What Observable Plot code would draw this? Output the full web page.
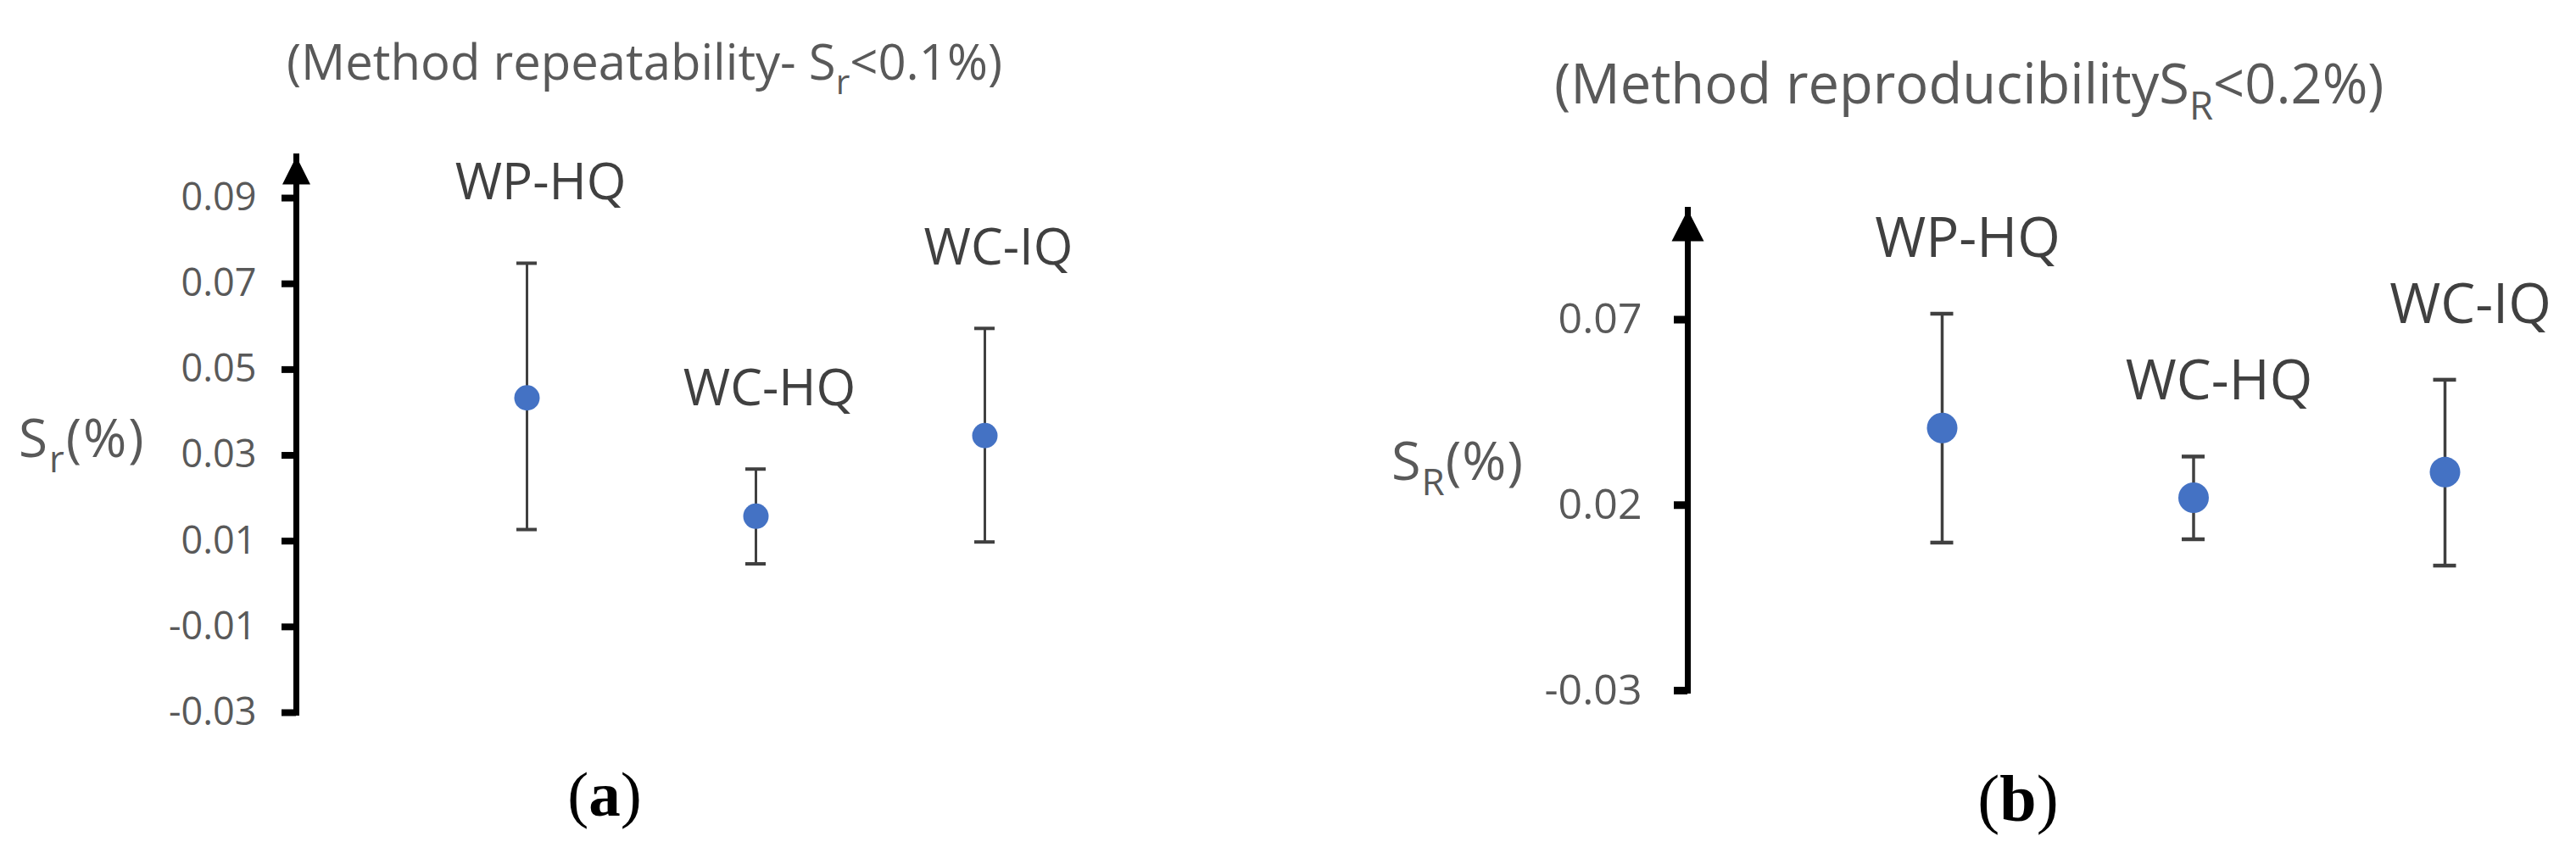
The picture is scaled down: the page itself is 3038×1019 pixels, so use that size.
<!DOCTYPE html>
<html>
<head>
<meta charset="utf-8">
<script src="https://cdn.jsdelivr.net/npm/d3@7"></script>
<script src="https://cdn.jsdelivr.net/npm/@observablehq/plot@0.6"></script>
<style>
  body { margin: 0; background: #fff; }
  #root { position: relative; width: 3038px; height: 1019px; overflow: hidden; background: #fff; font-family: "Open Sans", sans-serif; }
  .t { position: absolute; white-space: nowrap; line-height: 1; color: #595959; font-family: "Open Sans", sans-serif; }
  .sub { font-size: 0.7em; position: relative; top: 0.41em; }
  .panel { position: absolute; }
  .cap { position: absolute; white-space: nowrap; line-height: 1; color: #000; font-family: "Liberation Serif", "Times New Roman", serif; transform: translateX(-50%); }
</style>
</head>
<body>
<div id="root">
  <div class="t" style="left:338px; top:43px; font-size:58px;">(Method repeatability- S<span class="sub">r</span>&lt;0.1%)</div>
  <div class="t" style="left:1833px; top:65px; font-size:65px;">(Method reproducibilityS<span class="sub">R</span>&lt;0.2%)</div>
  <div class="t" style="left:22px; top:484px; font-size:62px; letter-spacing:2px;">S<span class="sub">r</span>(%)</div>
  <div class="t" style="left:1641px; top:510px; font-size:63px; letter-spacing:1px;">S<span class="sub">R</span>(%)</div>
  <div class="cap" style="left:713px; top:899px; font-size:75px;">(<b>a</b>)</div>
  <div class="cap" style="left:2380px; top:903px; font-size:78px;">(<b>b</b>)</div>
</div>
<script>
// ---- data ----
const categories = ["WP-HQ", "WC-HQ", "WC-IQ"];

// (a) repeatability Sr (%)
const srMean = [0.0434, 0.0158, 0.0346];
const srLow  = [0.0127, 0.0047, 0.0098];
const srHigh = [0.0748, 0.0268, 0.0596];
const srTicks = [-0.03, -0.01, 0.01, 0.03, 0.05, 0.07, 0.09];

// (b) reproducibility SR (%)
const sRMean = [0.0408, 0.0220, 0.0289];
const sRLow  = [0.0099, 0.0108, 0.0037];
const sRHigh = [0.0716, 0.0331, 0.0538];
const sRTicks = [-0.03, 0.02, 0.07];

function rows(mean, low, high) {
  return categories.map((c, i) => ({cat: c, mean: mean[i], low: low[i], high: high[i]}));
}

// filled arrowhead whose tip sits at the symbol origin
function arrowHead(w, h) {
  return {draw(ctx) { ctx.moveTo(0, 0); ctx.lineTo(w / 2, h); ctx.lineTo(-w / 2, h); ctx.closePath(); }};
}

function panel(data, ticks, o) {
  const step = (o.xc[1] - o.xc[0]) / (categories.length - 1);
  const plotW = o.width - o.ml - o.mr;
  const chart = Plot.plot({
    width: o.width,
    height: o.height,
    marginTop: o.mt,
    marginBottom: o.mb,
    marginLeft: o.ml,
    marginRight: o.mr,
    style: {fontFamily: "Open Sans, sans-serif", fontSize: o.tickFs + "px", background: "transparent", overflow: "visible"},
    x: {type: "band", domain: categories, range: [o.xc[0] - o.capW / 2, o.xc[1] + o.capW / 2],
        paddingInner: 1 - o.capW / step, paddingOuter: 0, align: 0.5, round: false, axis: null},
    y: {domain: o.ydomain, axis: null},
    marks: [
      // axis ticks (outside, to the left of the axis line)
      Plot.ruleY(ticks, {y: d => d, insetLeft: -o.tickSize, insetRight: plotW, stroke: "#000", strokeWidth: o.tickW}),
      // tick labels
      Plot.axisY(ticks, {
        anchor: "left", tickSize: 0, tickPadding: o.tickSize + o.tickPad,
        tickFormat: d => String(d), fill: "#595959", fontSize: o.tickFs, label: null
      }),
      // vertical axis line with arrowhead
      Plot.frame({anchor: "left", stroke: "#000", strokeWidth: o.axisW}),
      Plot.dot([0], {frameAnchor: "top-left", symbol: arrowHead(o.arrowW, o.arrowH), r: 10, fill: "#000", stroke: "none"}),
      // error bars
      Plot.ruleX(data, {x: "cat", y1: "low", y2: "high", stroke: "#404040", strokeWidth: o.barW}),
      Plot.tickY(data, {x: "cat", y: "high", stroke: "#404040", strokeWidth: o.capT}),
      Plot.tickY(data, {x: "cat", y: "low", stroke: "#404040", strokeWidth: o.capT}),
      // means
      Plot.dot(data, {x: "cat", y: "mean", r: o.dotR, fill: "#4472C4", stroke: "none"}),
      // category labels
      Plot.text(data, {x: "cat", y: "high", text: "cat", dx: o.labelDx, dy: o.labelDy, lineAnchor: "bottom", fontSize: o.labelFs, fill: "#404040"})
    ]
  });
  chart.classList.add("panel");
  chart.style.left = o.left + "px";
  chart.style.top = o.top + "px";
  return chart;
}

const root = document.getElementById("root");

root.appendChild(panel(rows(srMean, srLow, srHigh), srTicks, {
  left: 0, top: 150, width: 1519, height: 720, mt: 34, mb: 30, ml: 349, mr: 60,
  xc: [621, 1161], capW: 24, ydomain: [-0.03, 0.0997],
  axisW: 7, arrowW: 33, arrowH: 33, tickSize: 17, tickPad: 30, tickW: 8, tickFs: 45,
  barW: 3, capT: 4, dotR: 15, labelDx: 16, labelDy: -75, labelFs: 60
}));

root.appendChild(panel(rows(sRMean, sRLow, sRHigh), sRTicks, {
  left: 1520, top: 200, width: 1518, height: 650, mt: 47, mb: 36, ml: 470, mr: 20,
  xc: [770, 1363], capW: 27, ydomain: [-0.03, 0.0996],
  axisW: 7, arrowW: 38, arrowH: 37, tickSize: 16, tickPad: 38, tickW: 9, tickFs: 50,
  barW: 3.5, capT: 4.5, dotR: 18, labelDx: 30, labelDy: -67, labelFs: 65
}));
</script>
</body>
</html>
